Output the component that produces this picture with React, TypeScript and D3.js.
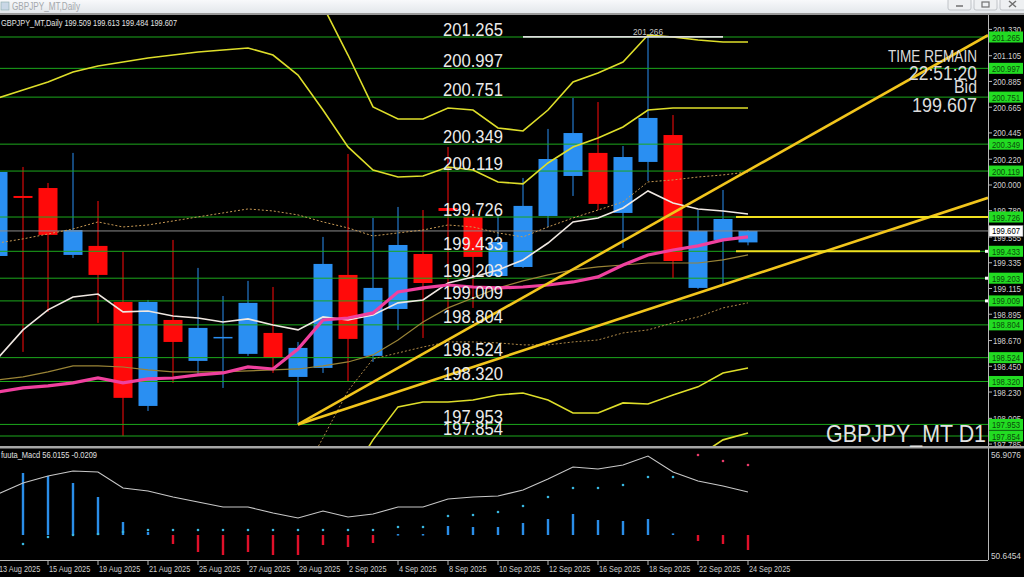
import React from "react";
import * as d3 from "d3";

// ---------- DATA ----------
const dates = ["13 Aug 2025","14 Aug 2025","15 Aug 2025","18 Aug 2025","19 Aug 2025","20 Aug 2025","21 Aug 2025","22 Aug 2025","25 Aug 2025","26 Aug 2025","27 Aug 2025","28 Aug 2025","29 Aug 2025","1 Sep 2025","2 Sep 2025","3 Sep 2025","4 Sep 2025","5 Sep 2025","8 Sep 2025","9 Sep 2025","10 Sep 2025","11 Sep 2025","12 Sep 2025","15 Sep 2025","16 Sep 2025","17 Sep 2025","18 Sep 2025","19 Sep 2025","22 Sep 2025","23 Sep 2025","24 Sep 2025"];

const openP = [199.393,199.906,199.974,199.402,199.479,199.000,198.111,198.846,198.496,198.692,198.556,198.735,198.359,198.436,199.231,198.539,198.940,199.410,199.803,199.727,199.222,199.299,199.735,200.077,200.274,199.761,200.197,200.427,199.120,199.530,199.509];
const highP = [200.171,200.154,200.017,200.274,199.863,199.427,199.017,199.530,199.291,199.051,199.180,199.128,198.658,199.556,200.265,199.718,199.812,199.786,200.325,199.786,199.744,200.060,200.479,200.744,200.709,200.333,201.266,200.598,199.786,199.957,199.613];
const lowP = [199.342,198.573,198.915,199.376,198.821,197.855,198.068,198.308,198.376,198.265,198.539,198.393,197.953,198.393,198.316,198.487,198.761,198.692,198.932,198.949,199.214,199.291,199.641,199.906,199.786,199.462,200.034,199.205,199.111,199.145,199.484];
const closeP = [200.111,199.889,199.573,199.615,199.231,198.180,199.000,198.658,198.778,198.701,198.992,198.521,198.607,199.325,198.684,199.120,199.487,199.162,199.778,199.385,199.513,199.821,200.222,200.444,199.838,200.239,200.573,199.350,199.607,199.709,199.607];

const maWhite = [198.521,198.761,198.932,199.043,199.068,198.915,198.923,198.880,198.863,198.829,198.855,198.803,198.761,198.872,198.846,198.889,198.992,199.017,199.162,199.214,199.274,199.359,199.504,199.684,199.718,199.803,199.949,199.846,199.795,199.778,199.752];
const maMagenta = [198.231,198.265,198.282,198.308,198.350,198.308,198.342,198.350,198.376,198.393,198.444,198.427,198.598,198.846,198.863,198.906,199.086,199.120,199.145,199.128,199.120,199.128,199.145,199.171,199.214,199.316,199.402,199.444,199.479,199.530,199.556];
const maOlive = [198.333,198.359,198.402,198.453,198.453,198.444,198.419,198.402,198.402,198.402,198.410,198.419,198.427,198.453,198.487,198.547,198.675,198.829,198.949,199.034,199.120,199.180,199.231,199.274,199.299,199.316,199.333,199.333,199.333,199.359,199.402];
const dotUpper = [199.504,199.539,199.581,199.624,199.684,199.641,199.658,199.692,199.727,199.761,199.795,199.778,199.744,199.684,199.633,199.564,199.590,199.615,199.658,199.641,199.590,199.556,199.641,199.718,199.786,199.855,200.026,200.043,200.068,200.086,200.111];
const dotLower = [197.20,197.22,197.25,197.28,197.30,197.30,197.32,197.34,197.36,197.38,197.40,197.42,197.45,197.838,198.239,198.513,198.564,198.615,198.658,198.658,198.650,198.633,198.633,198.658,198.675,198.735,198.761,198.821,198.872,198.949,198.992];
const bandUpper1 = [200.744,200.812,200.880,200.966,201.017,201.051,201.086,201.111,201.137,201.154,201.171,201.111,200.940,200.641,200.325,200.128,200.068,200.077,200.154,200.128,200.026,200.009,200.188,200.325,200.402,200.496,200.641,200.658,200.658,200.658,200.658];
const bandUpper2 = [202.10,202.15,202.20,202.25,202.30,202.32,202.34,202.35,202.35,202.33,202.30,202.15,201.90,201.53,201.111,200.667,200.564,200.564,200.658,200.641,200.487,200.462,200.641,200.880,200.957,201.051,201.282,201.265,201.239,201.222,201.222];
const bandLower1 = [195.72,195.72,195.68,195.65,195.68,195.57,195.60,195.59,195.62,195.63,195.72,195.75,196.26,197.05,197.479,197.821,198.103,198.145,198.145,198.162,198.205,198.222,198.162,198.051,198.051,198.137,198.128,198.205,198.274,198.393,198.436];
const bandLower2 = [194.50,194.50,194.45,194.40,194.40,194.30,194.30,194.30,194.35,194.35,194.45,194.50,195.10,196.20,196.80,197.05,197.30,197.35,197.30,197.32,197.38,197.42,197.35,197.20,197.25,197.35,197.45,197.55,197.68,197.821,197.880];

const levels = [201.265,200.997,200.751,200.349,200.119,199.726,199.433,199.203,199.009,198.804,198.524,198.320,197.953,197.854];
const yellowLevels = [199.726,199.433];
const markerLevels = [199.433,199.203,199.009];
const priceTicks = [201.330,201.105,200.885,200.665,200.445,200.220,200.000,199.780,199.555,199.335,199.115,198.895,198.670,198.450,198.230,198.005,197.785];
const bidPrice = 199.607;
const highMark = 201.266;
const trendStart = { i: 12, p: 197.953 };
const trendEnds = [{ i: 39.6, p: 201.28 }, { i: 39.6, p: 199.89 }];

const macdLine = [54.427,55.109,55.543,55.853,55.791,54.799,54.613,54.241,53.931,53.621,53.621,53.249,52.939,53.373,53.001,53.187,53.621,53.621,54.117,54.241,54.303,54.675,55.357,56.101,55.977,56.225,56.783,55.791,55.233,54.923,54.551];
const macdSignal = [51.2,51.327,51.761,51.885,51.947,52.071,52.195,52.195,52.195,52.195,52.195,52.195,52.195,52.195,52.195,52.195,52.381,52.381,53.063,53.125,53.311,53.683,54.241,54.799,54.799,54.985,55.481,55.481,56.845,56.473,56.225];
const macdHist = [3.7,3.844,3.658,3.224,2.356,0.806,0.186,-0.558,-1.054,-1.240,-1.054,-1.240,-1.240,-0.620,-0.744,-0.496,0.06,0.06,0.558,0.496,0.496,0.744,0.992,1.302,0.930,0.868,0.992,0.1,-0.372,-0.558,-0.930];
const macdZero = 51.885;
const macdAxis = [56.9076, 50.6454];

// ---------- STYLE ----------
const FONT = "'Liberation Sans', Arial, sans-serif";
const GREEN = "#1ca81c";
const UP = "#2a8ff2";
const DOWN = "#ff0a0a";
const BAND = "#dede2a";
const GOLD = "#f2c51c";

export default function App() {
  const W = 1024, H = 577;
  const plotRight = 988;
  const mainTop = 15, mainBottom = 446;
  const macdTop = 449, macdBottom = 560;

  const x = d3.scaleLinear().domain([0, 30]).range([-2, 748]);
  const y = d3.scaleLinear().domain([197.854, 201.265]).range([436, 37]);
  const ym = d3.scaleLinear().domain([macdAxis[1], macdAxis[0]]).range([555, 454]);

  const pline = (arr: number[]) => d3.line<number>().x((_, i) => x(i)).y((d) => y(d))(arr) || "";
  const mline = (arr: number[]) => d3.line<number>().x((_, i) => x(i)).y((d) => ym(d))(arr) || "";
  const bw = 19;

  return (
    <svg width={W} height={H} style={{ position: "fixed", left: 0, top: 0, display: "block" }} fontFamily={FONT}>
      <defs>
        <clipPath id="mainClip"><rect x={0} y={mainTop} width={plotRight} height={mainBottom - mainTop} /></clipPath>
        <clipPath id="macdClip"><rect x={0} y={macdTop} width={plotRight} height={macdBottom - macdTop} /></clipPath>
        <linearGradient id="tbar" x1="0" y1="0" x2="0" y2="1">
          <stop offset="0" stopColor="#f8f9fb" />
          <stop offset="1" stopColor="#e3e7eb" />
        </linearGradient>
      </defs>
      <rect x={0} y={0} width={W} height={H} fill="#000" />

      {/* title bar */}
      <rect x={0} y={0} width={W} height={13} fill="url(#tbar)" />
      <rect x={1} y={2} width={8} height={8} fill="#c9d7e6" stroke="#8aa" strokeWidth={0.6} />
      <text x={12} y={10} fontSize={10.5} fill="#a4a8ac" textLength={68} lengthAdjust="spacingAndGlyphs">GBPJPY_MT,Daily</text>
      {[948, 974, 1000].map((bx, k) => (
        <g key={k}>
          <rect x={bx} y={-2} width={k === 2 ? 26 : 23} height={12} rx={2} fill="#eef0f2" stroke="#b4b8bc" strokeWidth={0.8} />
          {k === 0 && <line x1={bx + 8} x2={bx + 15} y1={6} y2={6} stroke="#707070" strokeWidth={1.5} />}
          {k === 1 && <rect x={bx + 8} y={2} width={7} height={5} fill="none" stroke="#707070" strokeWidth={1.2} />}
          {k === 2 && <path d={`M${bx + 9},1 L${bx + 16},7 M${bx + 16},1 L${bx + 9},7`} stroke="#707070" strokeWidth={1.5} />}
        </g>
      ))}
      <rect x={0} y={13} width={W} height={2} fill="#9a9a9a" />

      {/* ---------- main chart ---------- */}
      <g clipPath="url(#mainClip)">
        {openP.map((o, i) => {
          const c = closeP[i];
          const up = c >= o;
          const col = up ? UP : DOWN;
          const cx = x(i);
          const top = y(Math.max(o, c));
          const bot = y(Math.min(o, c));
          return (
            <g key={i}>
              <line x1={cx} x2={cx} y1={y(highP[i])} y2={y(lowP[i])} stroke={col} strokeWidth={1} />
              <rect x={cx - bw / 2} y={top} width={bw} height={Math.max(bot - top, 1.5)} fill={col} />
            </g>
          );
        })}

        {levels.map((v) => (
          <line key={v} x1={0} x2={plotRight} y1={y(v)} y2={y(v)} stroke={GREEN} strokeWidth={1} />
        ))}
        <line x1={0} x2={plotRight} y1={y(bidPrice)} y2={y(bidPrice)} stroke="#8c8c8c" strokeWidth={1} />

        {[bandUpper1, bandUpper2, bandLower1, bandLower2].map((b, k) => (
          <path key={k} d={pline(b)} fill="none" stroke={BAND} strokeWidth={1.6} />
        ))}
        <path d={pline(dotUpper)} fill="none" stroke="#c89a55" strokeWidth={1} strokeDasharray="2,2" />
        <path d={pline(dotLower)} fill="none" stroke="#b08a48" strokeWidth={1} strokeDasharray="2,2" />
        <path d={pline(maOlive)} fill="none" stroke="#9a8436" strokeWidth={1.2} />
        <path d={pline(maWhite)} fill="none" stroke="#f0e8e2" strokeWidth={1.6} />
        <path d={pline(maMagenta)} fill="none" stroke="#f0409e" strokeWidth={3.2} />

        <line x1={523} x2={723} y1={y(highMark)} y2={y(highMark)} stroke="#dcdcdc" strokeWidth={1.6} />
        <text x={633} y={y(highMark) - 2} fontSize={9.5} fill="#c4c4c4" textLength={30} lengthAdjust="spacingAndGlyphs">{highMark.toFixed(3)}</text>

        {trendEnds.map((e, k) => (
          <line key={k} x1={x(trendStart.i)} y1={y(trendStart.p)} x2={x(e.i)} y2={y(e.p)} stroke={GOLD} strokeWidth={2.6} />
        ))}
        {yellowLevels.map((v, k) => (
          <line key={v} x1={736} x2={k === 0 ? plotRight : 980} y1={y(v)} y2={y(v)} stroke="#f0e020" strokeWidth={2} />
        ))}
        {markerLevels.map((v) => (
          <rect key={v} x={985} y={y(v) - 1.5} width={3} height={3} fill="#ffffff" />
        ))}

        {levels.map((v) => (
          <text key={v} x={443} y={y(v) - 1.5} fontSize={18} fill="#ececec" textLength={60} lengthAdjust="spacingAndGlyphs">{v.toFixed(3)}</text>
        ))}
      </g>

      <text x={1} y={26} fontSize={9} fill="#e4e4e4" textLength={176} lengthAdjust="spacingAndGlyphs">GBPJPY_MT,Daily  199.509 199.613 199.484 199.607</text>

      <g fill="#dcdcdc" textAnchor="end">
        <text x={977} y={62} fontSize={16.5} textLength={89} lengthAdjust="spacingAndGlyphs">TIME REMAIN</text>
        <text x={977} y={80} fontSize={20.5} textLength={68} lengthAdjust="spacingAndGlyphs">22:51:20</text>
        <text x={977} y={93} fontSize={17.5} textLength={23} lengthAdjust="spacingAndGlyphs">Bid</text>
        <text x={977} y={112} fontSize={20.5} textLength={65} lengthAdjust="spacingAndGlyphs">{bidPrice.toFixed(3)}</text>
      </g>

      {/* right price axis */}
      <line x1={988.5} x2={988.5} y1={mainTop} y2={macdBottom} stroke="#b8b8b8" strokeWidth={1} />
      {priceTicks.map((v) => (
        <g key={v}>
          <line x1={988} x2={992} y1={y(v)} y2={y(v)} stroke="#b8b8b8" />
          <text x={993} y={y(v) + 3.5} fontSize={9} fill="#d0d0d0" textLength={28} lengthAdjust="spacingAndGlyphs">{v.toFixed(3)}</text>
        </g>
      ))}
      {levels.map((v) => (
        <g key={v}>
          <rect x={989} y={y(v) - 5.5} width={34} height={11} fill="#22dc22" />
          <text x={992} y={y(v) + 3.5} fontSize={9} fill="#0b4a0b" textLength={28} lengthAdjust="spacingAndGlyphs">{v.toFixed(3)}</text>
        </g>
      ))}
      <rect x={989} y={y(bidPrice) - 5.5} width={34} height={11} fill="#ffffff" stroke="#888" strokeWidth={0.6} />
      <text x={992} y={y(bidPrice) + 3.5} fontSize={9} fill="#000" textLength={28} lengthAdjust="spacingAndGlyphs">{bidPrice.toFixed(3)}</text>

      {/* separator */}
      <rect x={0} y={446} width={W} height={2.5} fill="#a6a6a6" />
      <text x={986} y={442} fontSize={24} fill="#e2e2e2" textAnchor="end" textLength={160} lengthAdjust="spacingAndGlyphs">GBPJPY_MT D1</text>

      {/* ---------- MACD panel ---------- */}
      <text x={1} y={458} fontSize={9} fill="#e0e0e0" textLength={96} lengthAdjust="spacingAndGlyphs">fuuta_Macd 56.0155  -0.0209</text>
      <g clipPath="url(#macdClip)">
        {macdHist.map((h, i) => {
          const y0 = ym(macdZero);
          const y1 = ym(macdZero + h);
          return (
            <rect key={i} x={x(i) - 1.2} y={Math.min(y0, y1)} width={2.4} height={Math.max(Math.abs(y1 - y0), 1.5)} fill={h >= 0 ? "#2a8ee8" : "#e0102a"} />
          );
        })}
        <path d={mline(macdLine)} fill="none" stroke="#c8c8c8" strokeWidth={1.1} />
        {macdSignal.map((s, i) => (
          <circle key={i} cx={x(i)} cy={ym(s)} r={1.3} fill={i >= 28 ? "#e83a6a" : "#38b6e0"} />
        ))}
      </g>
      <text x={991} y={ym(macdAxis[0]) + 3.5} fontSize={9} fill="#d0d0d0" textLength={30} lengthAdjust="spacingAndGlyphs">{macdAxis[0].toFixed(4)}</text>
      <text x={991} y={ym(macdAxis[1]) + 3.5} fontSize={9} fill="#d0d0d0" textLength={30} lengthAdjust="spacingAndGlyphs">{macdAxis[1].toFixed(4)}</text>
      <line x1={0} x2={plotRight} y1={560.5} y2={560.5} stroke="#b8b8b8" />

      {/* x axis */}
      {dates.map((d, i) =>
        i % 2 === 0 ? (
          <g key={d}>
            <line x1={x(i)} x2={x(i)} y1={560} y2={565} stroke="#b8b8b8" />
            <text x={x(i) + 1} y={572} fontSize={9} fill="#d0d0d0" textLength={d.length * 3.75} lengthAdjust="spacingAndGlyphs">{d}</text>
          </g>
        ) : null
      )}
    </svg>
  );
}
